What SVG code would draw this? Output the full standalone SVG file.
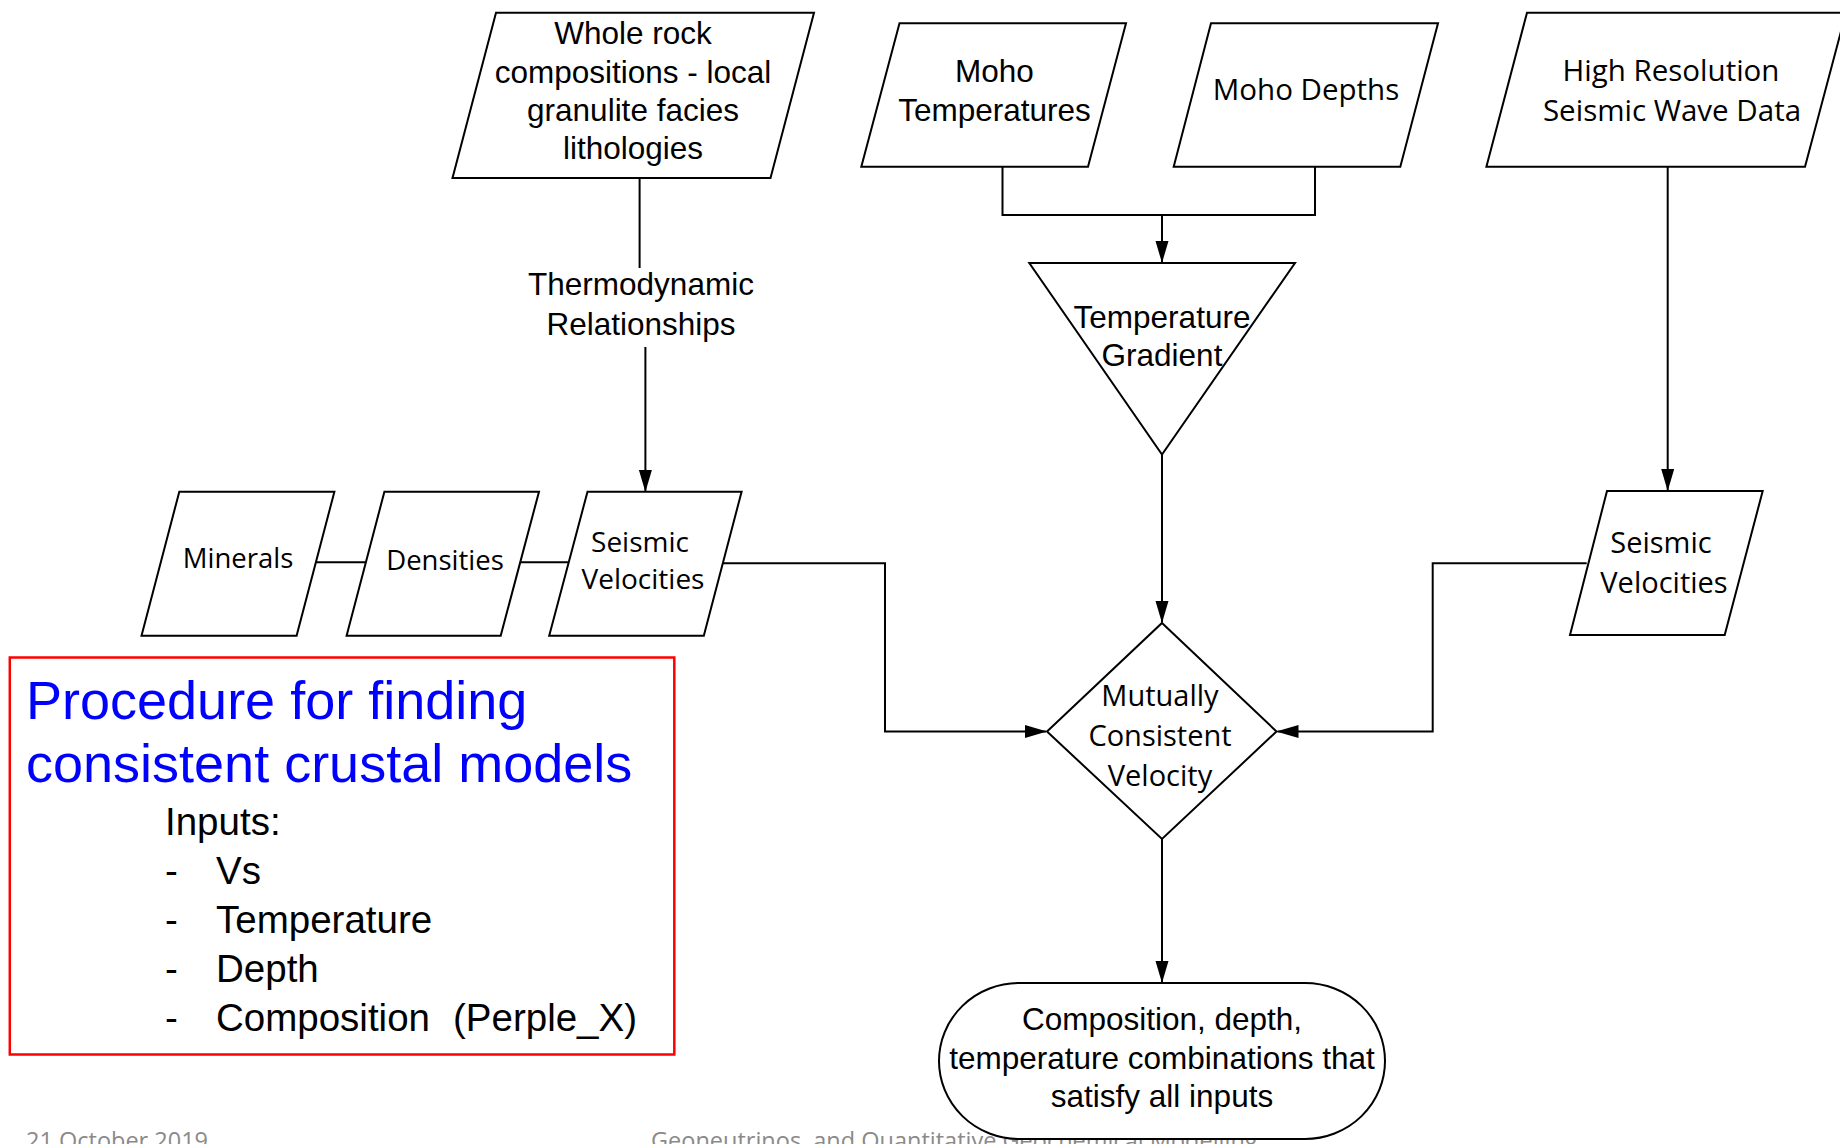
<svg xmlns="http://www.w3.org/2000/svg" width="1840" height="1144" viewBox="0 0 1840 1144">
<defs>
<style>
.shape{fill:#fff;stroke:#000;stroke-width:2;stroke-linejoin:miter}
.conn{fill:none;stroke:#000;stroke-width:2}
.ar{font-family:"Liberation Sans",Arial,sans-serif;font-size:31.5px;fill:#000;text-anchor:middle}
.os{font-family:"Open Sans","Noto Sans",sans-serif;font-size:29px;fill:#000;text-anchor:middle}
.title{font-family:"Liberation Sans",Arial,sans-serif;font-size:54px;fill:#0000ff}
.inp{font-family:"Liberation Sans",Arial,sans-serif;font-size:38.5px;fill:#000}
.foot{font-family:"Open Sans","Noto Sans",sans-serif;font-size:23.5px;fill:#8a8a8a}
</style>
<marker id="arr" markerUnits="userSpaceOnUse" markerWidth="22" markerHeight="14" refX="21" refY="6.5" orient="auto">
<path d="M0,0 L22,6.5 L0,13 z" fill="#000"/>
</marker>
</defs>
<rect width="1840" height="1144" fill="#fff"/>

<g id="footer">
<text class="foot" x="26" y="1149">21 October 2019</text>
<text class="foot" x="651" y="1149">Geoneutrinos, and Quantitative Geochemical Modelling</text>
</g>

<g id="connectors">
<line class="conn" x1="639.6" y1="178" x2="639.6" y2="268"/>
<line class="conn" x1="645.4" y1="347" x2="645.4" y2="491" marker-end="url(#arr)"/>
<path class="conn" d="M1002.5,166.7 V215 H1315 V166.7"/>
<line class="conn" x1="1162" y1="215" x2="1162" y2="262" marker-end="url(#arr)"/>
<line class="conn" x1="1667.7" y1="166.7" x2="1667.7" y2="490" marker-end="url(#arr)"/>
<line class="conn" x1="1162" y1="454.5" x2="1162" y2="622" marker-end="url(#arr)"/>
<path class="conn" d="M723,563.3 H885 V731.5 H1046" marker-end="url(#arr)"/>
<path class="conn" d="M1586.7,563.3 H1432.7 V731.5 H1277.5" marker-end="url(#arr)"/>
<line class="conn" x1="1162" y1="839" x2="1162" y2="982" marker-end="url(#arr)"/>
<line class="conn" x1="315.9" y1="562.3" x2="365.9" y2="562.3"/>
<line class="conn" x1="520.2" y1="562.3" x2="568.7" y2="562.3"/>
</g>

<g id="thermo-label">
<text class="ar" x="641" y="295">Thermodynamic</text>
<text class="ar" x="641" y="334.5">Relationships</text>
</g>

<g id="whole-rock">
<polygon class="shape" points="496,12.7 814,12.7 770.5,178 452.5,178"/>
<text class="ar" x="633" y="44">Whole rock</text>
<text class="ar" x="633" y="83">compositions - local</text>
<text class="ar" x="633" y="121">granulite facies</text>
<text class="ar" x="633" y="159">lithologies</text>
</g>

<g id="moho-temp">
<polygon class="shape" points="899.5,23.3 1126,23.3 1088,166.7 861.3,166.7"/>
<text class="ar" x="994.5" y="82">Moho</text>
<text class="ar" x="994.5" y="121">Temperatures</text>
</g>

<g id="moho-depths">
<polygon class="shape" points="1211,23.3 1438,23.3 1400.3,166.7 1173.7,166.7"/>
<text class="os" x="1306" y="100" style="font-size:29.5px">Moho Depths</text>
</g>

<g id="high-res">
<polygon class="shape" points="1527,12.7 1846,12.7 1805,166.7 1486.4,166.7"/>
<text class="os" x="1671" y="81" style="font-size:29.5px">High Resolution</text>
<text class="os" x="1672" y="121" style="font-size:29.5px">Seismic Wave Data</text>
</g>

<g id="temp-gradient">
<polygon class="shape" points="1029.3,263 1295,263 1162,454.5"/>
<text class="ar" x="1162" y="327.5">Temperature</text>
<text class="ar" x="1162" y="366">Gradient</text>
</g>

<g id="minerals">
<polygon class="shape" points="179.3,491.7 334.4,491.7 296.6,635.7 141.5,635.7"/>
<text class="os" x="238" y="568" style="font-size:27.5px">Minerals</text>
</g>

<g id="densities">
<polygon class="shape" points="384.4,491.7 539,491.7 500.7,635.7 346.6,635.7"/>
<text class="os" x="445" y="570" style="font-size:27.5px">Densities</text>
</g>

<g id="seismic-left">
<polygon class="shape" points="587.5,491.7 741.6,491.7 703.8,635.7 549.2,635.7"/>
<text class="os" x="640" y="552" style="font-size:28px">Seismic</text>
<text class="os" x="643" y="589" style="font-size:28px">Velocities</text>
</g>

<g id="seismic-right">
<polygon class="shape" points="1607,491 1762.7,491 1724.7,635 1570,635"/>
<text class="os" x="1661" y="553">Seismic</text>
<text class="os" x="1664" y="593">Velocities</text>
</g>

<g id="mutual">
<polygon class="shape" points="1162,623 1276.5,731.5 1162,839 1047,731.5"/>
<text class="os" x="1160" y="706">Mutually</text>
<text class="os" x="1160" y="746">Consistent</text>
<text class="os" x="1160" y="786">Velocity</text>
</g>

<g id="result">
<rect class="shape" x="939" y="983" width="446" height="156" rx="80" ry="78"/>
<text class="ar" x="1162" y="1030">Composition, depth,</text>
<text class="ar" x="1162" y="1068.5">temperature combinations that</text>
<text class="ar" x="1162" y="1107">satisfy all inputs</text>
</g>

<g id="procedure-box">
<rect x="9.8" y="657.5" width="664.5" height="397" fill="none" stroke="#ff0000" stroke-width="2.5"/>
<text class="title" x="26" y="719">Procedure for finding</text>
<text class="title" x="26" y="782">consistent crustal models</text>
<text class="inp" x="165" y="835">Inputs:</text>
<text class="inp" x="165" y="884">-</text><text class="inp" x="216" y="884">Vs</text>
<text class="inp" x="165" y="933">-</text><text class="inp" x="216" y="933">Temperature</text>
<text class="inp" x="165" y="982">-</text><text class="inp" x="216" y="982">Depth</text>
<text class="inp" x="165" y="1031">-</text><text class="inp" x="216" y="1031">Composition</text><text class="inp" x="453" y="1031">(Perple_X)</text>
</g>
</svg>
